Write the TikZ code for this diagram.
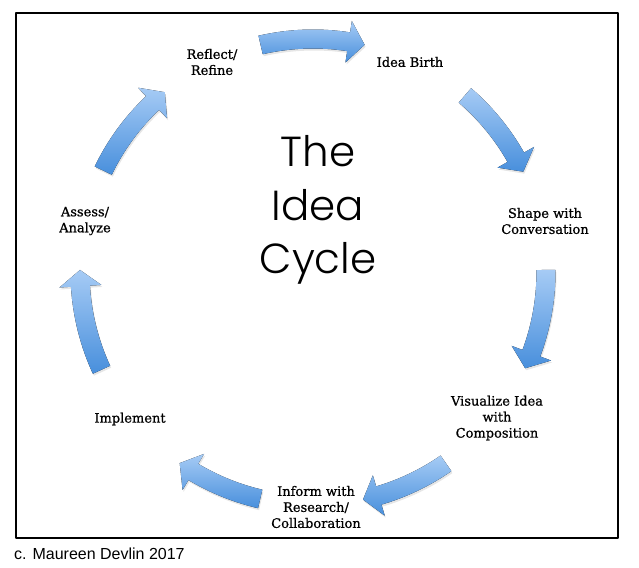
\documentclass[tikz,border=0pt]{standalone}
\usepackage{fontspec}
\setmainfont{DejaVu Serif}
\newfontfamily\stagefont{DejaVu Serif}[FakeBold=0.8]
\newfontfamily\titlefont{Poppins Light}
\newfontfamily\creditfont{Liberation Sans}
\usetikzlibrary{shadows}
\definecolor{arrowlight}{RGB}{166,203,245}
\definecolor{arrowdark}{RGB}{72,143,220}
\begin{document}
\begin{tikzpicture}[x=1pt,y=1pt,line join=round]
	\tikzset{stage/.style={align=center,font=\stagefont\fontsize{13}{16}\selectfont,inner sep=0pt},
		cyclearrow/.style={top color=arrowlight,bottom color=arrowdark,
			drop shadow={opacity=0.2,shadow xshift=1pt,shadow yshift=-2pt}}}
	\useasboundingbox (0,0) rectangle (639,567);
	\draw[line width=1.1pt] (16,29) rectangle (618,554);
	\coordinate (c) at (313,295);
	\begin{scope}[shift={(c)}]
		\foreach \tail/\tip in {103/77.2,49.3/25.5,0.5/-24.4,-55.2/-77.6,-103.1/-124.9,204.8/179.5,154.2/129.5}{
			\pgfmathsetmacro{\base}{\tip+4}
			\fill[cyclearrow] (\tail:242.5) arc[start angle=\tail,end angle=\base,radius=242.5]
				-- (\base:254) -- (\tip:233) -- (\base:212) -- (\base:223.5)
				arc[start angle=\base,end angle=\tail,radius=223.5] -- cycle;
		}
	\end{scope}
	\node[stage] (reflect) at (212,505) {Reflect/\\Refine};
	\node[stage] (birth) at (410,505) {Idea Birth};
	\node[stage] (shape) at (545,346) {Shape with\\Conversation};
	\node[stage] (visualize) at (497,149) {Visualize Idea\\with\\Composition};
	\node[stage] (inform) at (316,60) {Inform with\\Research/\\Collaboration};
	\node[stage] (implement) at (130,148) {Implement};
	\node[stage] (assess) at (85,346) {Assess/\\Analyze};
	\node[font=\titlefont\fontsize{42}{53.5}\selectfont,align=center,inner sep=0pt] (title) at (318,357) {The\\Idea\\Cycle};
	\node[font=\creditfont\fontsize{16}{18}\selectfont,anchor=base west,inner sep=0pt] (credit) at (14,7.5) {c. Maureen Devlin 2017};
\end{tikzpicture}
\end{document}
